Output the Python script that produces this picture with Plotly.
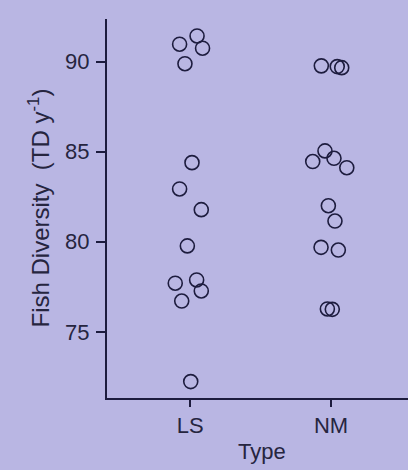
import plotly.graph_objects as go

# Fish diversity by habitat type (strip chart with small horizontal jitter)
types = ["LS", "NM"]

ls_values = [90.96, 91.42, 90.74, 89.88, 84.39, 82.93, 81.78, 79.77,
             77.70, 77.88, 77.27, 76.71, 72.24]
ls_jitter = [-0.076, 0.048, 0.087, -0.038, 0.012, -0.076, 0.078, -0.021,
             -0.107, 0.045, 0.078, -0.061, 0.003]

nm_values = [89.76, 89.72, 89.66, 85.04, 84.45, 84.63, 84.11, 82.00,
             81.15, 79.69, 79.54, 76.27, 76.25]
nm_jitter = [-0.069, 0.044, 0.076, -0.043, -0.130, 0.021, 0.112, -0.019,
             0.028, -0.071, 0.052, -0.026, 0.009]

y_ticks = [75, 80, 85, 90]

INK = "#1d1c3e"
TEXT = "#26253f"
BG = "#b9b6e3"
FONT = "Liberation Sans, Arial, sans-serif"

fig = go.Figure()
for i, (vals, jit) in enumerate([(ls_values, ls_jitter), (nm_values, nm_jitter)]):
    fig.add_trace(go.Scatter(
        x=[i + j for j in jit],
        y=vals,
        mode="markers",
        marker=dict(symbol="circle-open", size=14, color=INK,
                    line=dict(width=1.6, color=INK)),
        showlegend=False,
        hoverinfo="y",
    ))

W, H = 408, 470
ML, MR, MT, MB = 107, 0, 19, 72

fig.update_layout(
    width=W, height=H,
    margin=dict(l=ML, r=MR, t=MT, b=MB, pad=0),
    paper_bgcolor=BG, plot_bgcolor=BG,
    font=dict(family=FONT, size=22, color=TEXT),
    xaxis=dict(
        range=[-0.592, 1.547],
        tickvals=[0, 1], ticktext=types,
        showgrid=False, zeroline=False,
        showline=True, linecolor=INK, linewidth=2,
        ticks="outside", ticklen=7, tickwidth=1.5, tickcolor=INK,
        ticklabelstandoff=0,
        tickfont=dict(size=22, color=TEXT),
    ),
    yaxis=dict(
        range=[71.33, 92.36],
        tickvals=y_ticks,
        showgrid=False, zeroline=False,
        showline=True, linecolor=INK, linewidth=2,
        ticks="outside", ticklen=9, tickwidth=1.5, tickcolor=INK,
        ticklabelstandoff=2,
        tickfont=dict(size=22, color=TEXT),
    ),
    annotations=[
        dict(text="Type", xref="paper", yref="paper",
             x=(262 - ML) / (W - ML - MR), y=-(451 - (H - MB)) / (H - MT - MB),
             xanchor="center", yanchor="middle", showarrow=False,
             font=dict(size=22, color=TEXT)),
        dict(text="Fish Diversity  (TD y<sup>-1</sup>)", xref="paper", yref="paper",
             x=(38 - ML) / (W - ML - MR), y=0.5, textangle=-90,
             xanchor="center", yanchor="middle", showarrow=False,
             font=dict(size=24, color=TEXT)),
    ],
)

fig.write_html("out.html")
